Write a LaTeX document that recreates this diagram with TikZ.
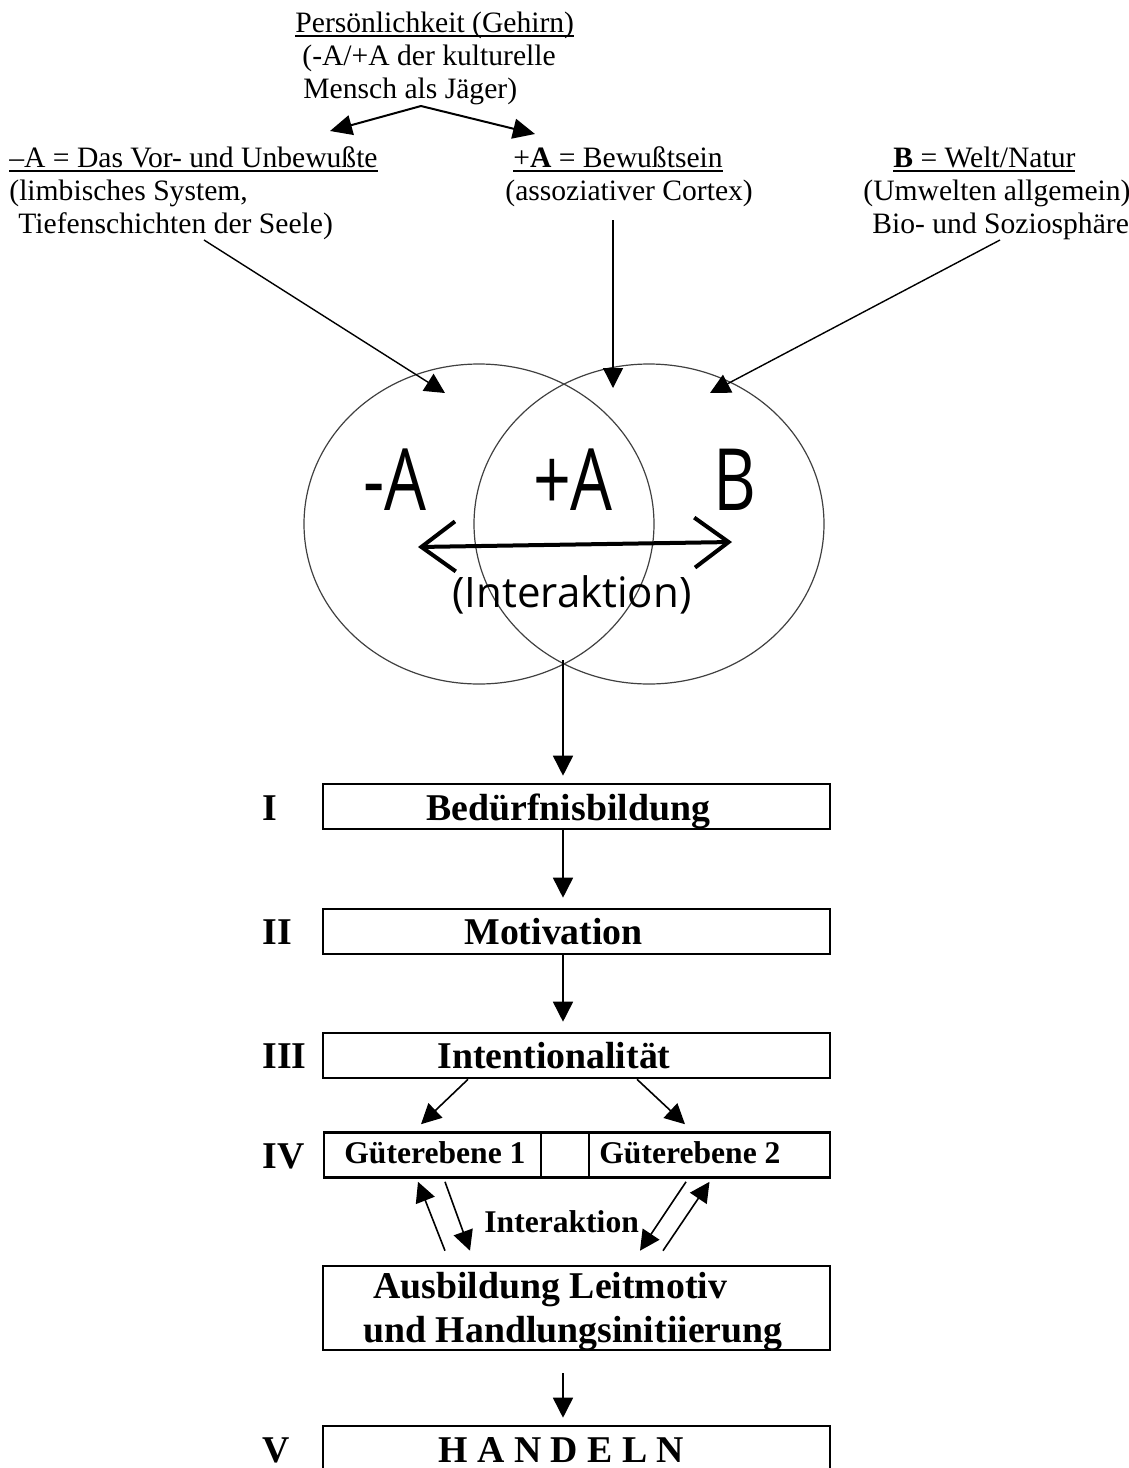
\documentclass[tikz,border=0pt]{standalone}
\usepackage{fontspec}
\setmainfont{Liberation Serif}
\newfontfamily\kreisfont{Open Sans}
\usetikzlibrary{arrows.meta,shapes.geometric}

\newcommand{\unterstr}[1]{\setbox0\hbox{#1}\rlap{\rule[-2.3pt]{\wd0}{0.8pt}}\box0}

\tikzset{
  txt/.style={anchor=base west, inner sep=0pt, font=\fontsize{14.8}{16.75}\selectfont},
  fett/.style={anchor=base west, inner sep=0pt, font=\fontsize{18.9}{21.7}\selectfont\bfseries},
  klein/.style={anchor=base west, inner sep=0pt, font=\fontsize{15.8}{18}\selectfont\bfseries},
  stufe/.style={draw, line width=1.3pt, minimum width=253.5pt, minimum height=22.5pt, inner sep=0pt},
  pfeil/.style={line width=0.8pt, -{Triangle[length=10pt,width=10pt]}},
  gabelpfeil/.style={line width=1pt, -{Triangle[length=11pt,width=10pt]}},
  kreis/.style={draw=black!75, line width=0.6pt, ellipse, inner sep=0pt, minimum width=175pt, minimum height=160pt},
  gross/.style={anchor=base, inner sep=0pt, font=\kreisfont\fontsize{43}{43}\selectfont},
}

\begin{document}
\begin{tikzpicture}[x=0.5pt,y=-0.5pt]
\useasboundingbox (0,0) rectangle (1129,1468);
\clip (0,0) rectangle (1129,1468);

% Kopf
\node[txt] (pers) at (295,32) {\unterstr{Persönlichkeit (Gehirn)}};
\node[txt] (kult1) at (302,65) {(-A/+A der kulturelle};
\node[txt] (kult2) at (303,98) {Mensch als Jäger)};
\coordinate (gabel) at (421,106);
\coordinate (gl) at (330,131);
\coordinate (gr) at (535,134);
\draw[gabelpfeil] (gabel) -- (gl);
\draw[gabelpfeil] (gabel) -- (gr);

\node[txt] (minA) at (9,167) {\unterstr{–A = Das Vor- und Unbewußte}};
\node[txt] (limb1) at (9,200) {(limbisches System,};
\node[txt] (limb2) at (18,233) {Tiefenschichten der Seele)};
\node[txt] (plusA) at (513,167) {\unterstr{+\textbf{A} = Bewußtsein}};
\node[txt] (cortex) at (505,200) {(assoziativer Cortex)};
\node[txt] (welt) at (893,167) {\unterstr{\textbf{B} = Welt/Natur}};
\node[txt] (umw) at (863,200) {(Umwelten allgemein)};
\node[txt] (bio) at (872,233) {Bio- und Soziosphäre};

% Kreise
\node[kreis] (kl) at (479,524) {};
\node[kreis] (kr) at (649,524) {};
\node[gross] (lminA) at (395,510) {\scalebox{0.77}[1]{-A}};
\node[gross] (lplusA) at (573,510) {\scalebox{0.77}[1]{+A}};
\node[gross] (lB) at (735,510) {\scalebox{0.77}[1]{B}};
\coordinate (wl) at (418,547);
\coordinate (wr) at (732,542);
\draw[line width=2pt, {Straight Barb[length=17pt,width=25pt]}-{Straight Barb[length=17pt,width=25pt]}] (wl) -- (wr);
\node[anchor=base, inner sep=0pt, font=\kreisfont\fontsize{21}{21}\selectfont] (inter) at (572,607) {(Interaktion)};

\coordinate (s1) at (204,240);
\coordinate (e1) at (445,393);
\coordinate (s2) at (613,220);
\coordinate (e2) at (613,388);
\coordinate (s3) at (1000,240);
\coordinate (e3) at (710,393);
\draw[pfeil, line width=0.7pt] (s1) -- (e1);
\draw[pfeil, line width=0.7pt] (s2) -- (e2);
\draw[pfeil, line width=0.7pt] (s3) -- (e3);

% Stufen
\coordinate (achse) at (563,0);
\coordinate (schnitt) at (563,660);
\node[stufe] (b1) at (576.5,806.5) {};
\node[stufe] (b2) at (576.5,931.5) {};
\node[stufe] (b3) at (576.5,1055.5) {};
\node[stufe, minimum width=108.5pt] (g1) at (432.5,1155) {};
\node[stufe, minimum width=24pt] (gm) at (565,1155) {};
\node[stufe, minimum width=120.5pt] (g2) at (709.5,1155) {};
\node[stufe, minimum height=42pt] (ausb) at (576.5,1308) {};
\node[stufe, minimum height=30pt] (b5) at (576.5,1456) {};

\node[fett] (n1) at (262,820) {I};
\node[fett] (n2) at (262,944) {II};
\node[fett] (n3) at (262,1068) {III};
\node[fett] (n4) at (262,1168) {IV};
\node[fett] (n5) at (262,1462) {V};

\node[fett] (t1) at (426,820) {Bedürfnisbildung};
\node[fett] (t2) at (464,944) {Motivation};
\node[fett] (t3) at (437,1068) {Intentionalität};
\node[klein] (t4) at (344,1163) {Güterebene 1};
\node[klein] (t5) at (599,1163) {Güterebene 2};
\node[fett] (t6) at (373,1298) {Ausbildung Leitmotiv};
\node[fett] (t7) at (363,1342) {und Handlungsinitiierung};
\node[fett] (t8) at (438,1462) {H A N D E L N};
\node[klein] (t9) at (484,1232) {Interaktion};

\draw[pfeil, shorten >=3.5pt] (schnitt) -- (b1.north -| achse);
\draw[pfeil, shorten >=5pt] (b1.south -| achse) -- (b2.north -| achse);
\draw[pfeil, shorten >=5pt] (b2.south -| achse) -- (b3.north -| achse);
\draw[pfeil] ([xshift=-54.25pt]b3.south) -- ([xshift=-5.75pt,yshift=3.5pt]g1.north);
\draw[pfeil] ([xshift=30.25pt]b3.south) -- ([xshift=-12.25pt,yshift=3.5pt]g2.north);
% Interaktion
\draw[pfeil] ([xshift=-65.75pt,yshift=7pt]ausb.north) -- ([xshift=-7.25pt,yshift=-1.5pt]g1.south);
\draw[pfeil] ([xshift=6.25pt,yshift=-1.5pt]g1.south) -- ([xshift=-53.25pt,yshift=7pt]ausb.north);
\draw[pfeil] ([xshift=-11.75pt,yshift=-1.5pt]g2.south) -- ([xshift=31.75pt,yshift=7pt]ausb.north);
\draw[pfeil] ([xshift=43.25pt,yshift=7pt]ausb.north) -- ([yshift=-1.5pt]g2.south);
\draw[pfeil, shorten <=11pt, shorten >=3.5pt] (ausb.south -| achse) -- (b5.north -| achse);
\end{tikzpicture}
\end{document}
